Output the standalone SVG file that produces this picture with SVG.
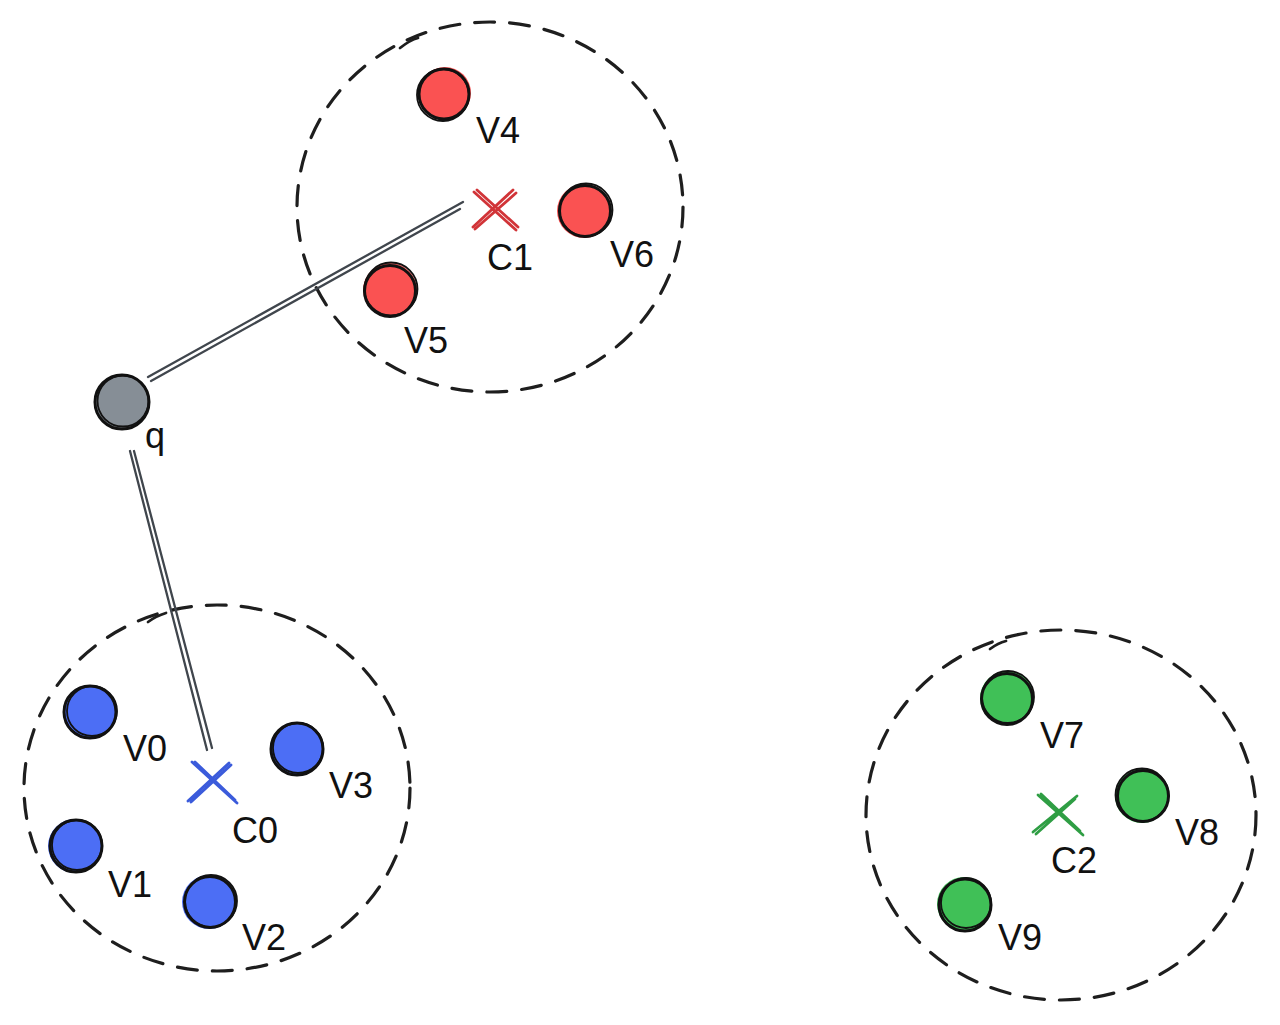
<svg xmlns="http://www.w3.org/2000/svg" width="1280" height="1025" viewBox="0 0 1280 1025">
<style>
.bg{fill:#ffffff}
.cluster{fill:none;stroke:#1e1e1e;stroke-width:3.2;stroke-dasharray:20 15;stroke-linecap:round}
.mark{fill:none;stroke:#1e1e1e;stroke-width:2.8;stroke-linecap:round}
.ol{fill:none;stroke:#111111;stroke-width:3}
.ol2{fill:none;stroke:#111111;stroke-width:1.8}
.red{fill:#fa5252}
.blue{fill:#4c6ef5}
.green{fill:#40c057}
.gray{fill:#868e96}
.xr{stroke:#d13438;stroke-width:2.8;stroke-linecap:round;fill:none}
.xb{stroke:#3b5bdb;stroke-width:2.8;stroke-linecap:round;fill:none}
.xg{stroke:#2f9e44;stroke-width:2.8;stroke-linecap:round;fill:none}
.edge{stroke:#40464d;stroke-width:2.3;fill:none;stroke-linecap:round}
text{font-family:"Liberation Sans",Arial,Helvetica,sans-serif;font-size:36px;fill:#111111}
</style>
<rect class="bg" x="0" y="0" width="1280" height="1025"/>

<g id="clusters">
  <g id="cluster-c1">
    <ellipse class="cluster" cx="490" cy="207" rx="193" ry="185"/>
    <path class="mark" d="M400 48 Q410 40 418 38"/>
  </g>
  <g id="cluster-c0">
    <ellipse class="cluster" cx="217" cy="788" rx="193" ry="183"/>
    <path class="mark" d="M148 622 Q156 616 166 613"/>
  </g>
  <g id="cluster-c2">
    <ellipse class="cluster" cx="1061" cy="815" rx="195" ry="185"/>
    <path class="mark" d="M990 649 Q998 643 1006 641"/>
  </g>
</g>

<g id="connectors">
  <path class="edge" d="M148 377 L463 202"/>
  <path class="edge" d="M151 381 L460 209"/>
  <path class="edge" d="M130 451 L207 750"/>
  <path class="edge" d="M134 451 L212 748"/>
</g>

<g id="node-q">
  <circle class="gray" cx="122" cy="402" r="26"/>
  <circle class="ol" cx="122" cy="402" r="27"/>
  <circle class="ol2" cx="123" cy="401" r="25.5"/>
  <text x="145" y="448">q</text>
</g>

<g id="node-C1">
  <path class="xr" d="M473 227 L513 190 M475 229 L516 193 M474 192 L516 230 M477 190 L518 227"/>
  <text x="487" y="270">C1</text>
</g>
<g id="node-V4">
  <circle class="red" cx="445" cy="93" r="26"/>
  <circle class="ol" cx="444" cy="94" r="25"/>
  <circle class="ol2" cx="443" cy="95" r="26"/>
  <text x="476" y="143">V4</text>
</g>
<g id="node-V6">
  <circle class="red" cx="584" cy="211" r="27"/>
  <circle class="ol" cx="585" cy="211" r="25.5"/>
  <circle class="ol2" cx="586" cy="210" r="26.5"/>
  <text x="610" y="267">V6</text>
</g>
<g id="node-V5">
  <circle class="red" cx="390" cy="290" r="27"/>
  <circle class="ol" cx="390" cy="291" r="25.5"/>
  <circle class="ol2" cx="391" cy="289" r="26.5"/>
  <text x="404" y="353">V5</text>
</g>

<g id="node-C0">
  <path class="xb" d="M188 801 L229 763 M191 802 L231 765 M192 762 L237 803 M195 762 L235 800"/>
  <text x="232" y="843">C0</text>
</g>
<g id="node-V0">
  <circle class="blue" cx="90" cy="712" r="27"/>
  <circle class="ol" cx="90" cy="712" r="26"/>
  <circle class="ol2" cx="92" cy="711" r="25"/>
  <text x="123" y="761">V0</text>
</g>
<g id="node-V3">
  <circle class="blue" cx="297" cy="749" r="27"/>
  <circle class="ol" cx="297" cy="749" r="26"/>
  <circle class="ol2" cx="298" cy="748" r="25"/>
  <text x="329" y="798">V3</text>
</g>
<g id="node-V1">
  <circle class="blue" cx="75" cy="846" r="27"/>
  <circle class="ol" cx="76" cy="846" r="26"/>
  <circle class="ol2" cx="77" cy="845" r="25"/>
  <text x="108" y="897">V1</text>
</g>
<g id="node-V2">
  <circle class="blue" cx="209" cy="902" r="27"/>
  <circle class="ol" cx="210" cy="902" r="25.5"/>
  <circle class="ol2" cx="211" cy="901" r="26"/>
  <text x="242" y="950">V2</text>
</g>

<g id="node-C2">
  <path class="xg" d="M1033 832 L1077 796 M1036 834 L1075 799 M1038 795 L1083 835 M1041 794 L1080 831"/>
  <text x="1051" y="873">C2</text>
</g>
<g id="node-V7">
  <circle class="green" cx="1007" cy="698" r="27"/>
  <circle class="ol" cx="1007" cy="699" r="25.5"/>
  <circle class="ol2" cx="1008" cy="697" r="26"/>
  <text x="1040" y="748">V7</text>
</g>
<g id="node-V8">
  <circle class="green" cx="1142" cy="796" r="27"/>
  <circle class="ol" cx="1143" cy="796" r="25.5"/>
  <circle class="ol2" cx="1142" cy="795" r="26.5"/>
  <text x="1175" y="845">V8</text>
</g>
<g id="node-V9">
  <circle class="green" cx="964" cy="904" r="27"/>
  <circle class="ol" cx="965" cy="905" r="26"/>
  <circle class="ol2" cx="966" cy="903" r="25"/>
  <text x="998" y="950">V9</text>
</g>
</svg>
